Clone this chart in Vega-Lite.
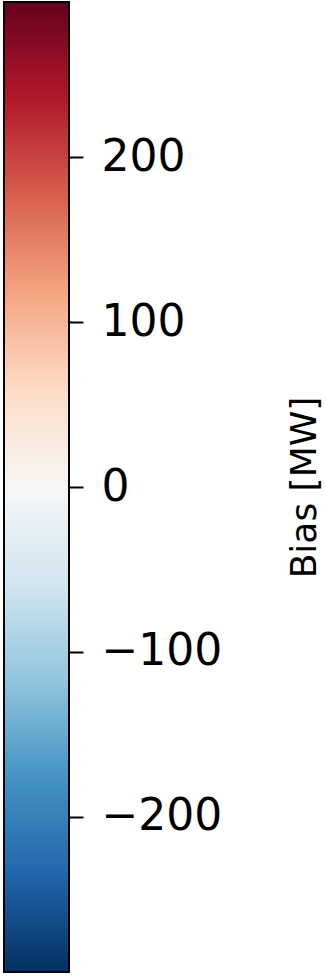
{
  "$schema": "https://vega.github.io/schema/vega-lite/v6.json",
  "width": 65,
  "height": 970,
  "autosize": "none",
  "padding": {"left": 4, "top": 2, "right": 257, "bottom": 4},
  "background": "white",
  "config": {"view": {"stroke": null}},
  "data": {"values": [{"lo": -294, "hi": 294}]},
  "mark": {
    "type": "rect",
    "stroke": "black",
    "strokeWidth": 2,
    "fill": {
      "gradient": "linear",
      "x1": 0, "y1": 0, "x2": 0, "y2": 1,
      "stops": [
        {"offset": 0, "color": "#67001f"},
        {"offset": 0.1, "color": "#b2182b"},
        {"offset": 0.2, "color": "#d6604d"},
        {"offset": 0.3, "color": "#f4a582"},
        {"offset": 0.4, "color": "#fddbc7"},
        {"offset": 0.5, "color": "#f7f7f7"},
        {"offset": 0.6, "color": "#d1e5f0"},
        {"offset": 0.7, "color": "#92c5de"},
        {"offset": 0.8, "color": "#4393c3"},
        {"offset": 0.9, "color": "#2166ac"},
        {"offset": 1, "color": "#053061"}
      ]
    }
  },
  "encoding": {
    "y": {
      "field": "lo",
      "type": "quantitative",
      "scale": {"domain": [-294, 294], "nice": false, "zero": false},
      "axis": {
        "orient": "right",
        "values": [-200, -100, 0, 100, 200],
        "format": "d",
        "domain": false,
        "grid": false,
        "ticks": true,
        "tickSize": 14,
        "tickWidth": 2,
        "tickColor": "black",
        "labelFont": "DejaVu Sans",
        "labelFontSize": 44,
        "labelColor": "black",
        "labelPadding": 18,
        "title": "Bias [MW]",
        "titleFont": "DejaVu Sans",
        "titleFontSize": 36,
        "titleFontWeight": "normal",
        "titleColor": "black",
        "titleAngle": 270,
        "titlePadding": 102
      }
    },
    "y2": {"field": "hi"}
  }
}
